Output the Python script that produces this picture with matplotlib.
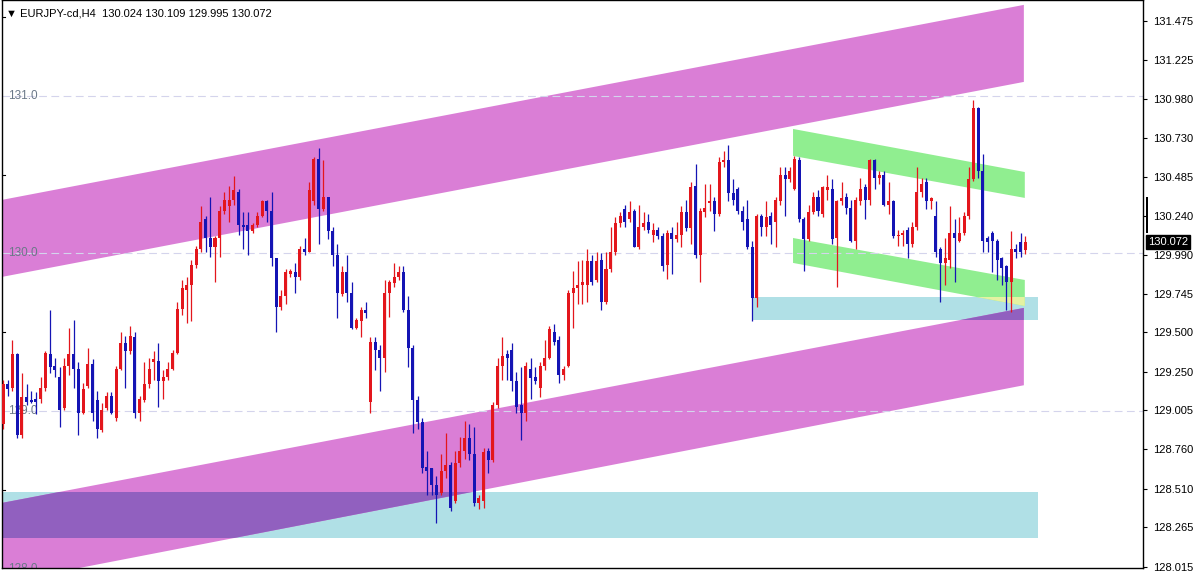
import matplotlib
matplotlib.use("Agg")
import matplotlib.pyplot as plt
import matplotlib.transforms as mtransforms
from matplotlib.patches import Polygon, Rectangle
import numpy as np

# EURJPY H4 candles (oldest first)
opens = [
    128.92, 129.17, 129.15, 129.36, 128.85, 129.09, 129.07, 129.08, 129.08, 129.15,
    129.36, 129.29, 129.22, 129.02, 129.29, 129.36, 129.27, 128.99, 129.16, 129.30,
    129.07, 128.88, 129.02, 129.10, 128.96, 129.27, 129.43, 129.38, 129.47, 128.99,
    129.07, 129.17, 129.31, 129.32, 129.19, 129.22, 129.27, 129.37, 129.65, 129.77,
    129.80, 129.93, 130.03, 130.22, 130.10, 130.04, 130.10, 130.27, 130.30, 130.34,
    130.39, 130.18, 130.18, 130.14, 130.18, 130.24, 130.33, 130.27, 129.97, 129.66,
    129.73, 129.87, 129.88, 129.85, 130.03, 130.01, 130.33, 130.60, 130.28, 130.36,
    130.14, 129.99, 129.74, 129.88, 129.75, 129.53, 129.57, 129.64, 129.06, 129.44,
    129.39, 129.34, 129.75, 129.81, 129.85, 129.88, 129.64, 129.40, 129.07, 128.93,
    128.65, 128.64, 128.53, 128.48, 128.62, 128.66, 128.43, 128.67, 128.75, 128.83,
    128.73, 128.42, 128.43, 128.75, 128.69, 129.04, 129.29, 129.36, 129.39, 129.19,
    129.04, 128.99, 129.27, 129.22, 129.15, 129.29, 129.34, 129.50, 129.45, 129.23,
    129.29, 129.75, 129.78, 129.80, 129.80, 129.95, 129.83, 129.96, 129.69, 129.90,
    130.01, 130.19, 130.28, 130.22, 130.27, 130.04, 130.17, 130.20, 130.12, 130.15,
    130.11, 129.93, 130.13, 130.09, 130.12, 130.26, 130.16, 130.43, 129.99, 130.26,
    130.32, 130.33, 130.25, 130.58, 130.59, 130.38, 130.41, 130.27, 130.22, 130.04,
    129.72, 130.24, 130.17, 130.24, 130.20, 130.33, 130.50, 130.47, 130.41, 130.59,
    130.22, 130.09, 130.26, 130.36, 130.25, 130.40, 130.41, 130.10, 130.33, 130.36,
    130.29, 130.08, 130.33, 130.42, 130.34, 130.59, 130.48, 130.50, 130.31, 130.33,
    130.11, 130.12, 130.15, 130.06, 130.17, 130.39, 130.45, 130.33, 130.24, 130.03,
    129.94, 129.96, 130.13, 130.08, 130.13, 130.24, 130.47, 130.92, 130.52, 130.10,
    130.13, 130.08, 129.97, 129.92, 129.82, 130.03, 130.07, 130.024,
]
highs = [
    129.20, 129.20, 129.45, 129.37, 129.24, 129.17, 129.13, 129.12, 129.22, 129.38,
    129.64, 129.34, 129.28, 129.34, 129.53, 129.58, 129.31, 129.18, 129.40, 129.33,
    129.13, 129.05, 129.12, 129.12, 129.29, 129.50, 129.48, 129.54, 129.50, 129.10,
    129.31, 129.34, 129.38, 129.43, 129.26, 129.31, 129.39, 129.69, 129.83, 129.85,
    129.96, 130.05, 130.30, 130.24, 130.36, 130.11, 130.30, 130.39, 130.43, 130.49,
    130.41, 130.26, 130.26, 130.19, 130.26, 130.34, 130.34, 130.39, 129.97, 129.77,
    129.90, 129.90, 129.94, 130.05, 130.10, 130.45, 130.61, 130.67, 130.59, 130.36,
    130.17, 130.06, 129.92, 129.99, 129.82, 129.59, 129.66, 129.69, 129.47, 129.47,
    129.42, 129.83, 129.83, 129.94, 129.92, 129.92, 129.73, 129.42, 129.10, 128.96,
    128.75, 128.64, 128.59, 128.73, 128.86, 128.68, 128.75, 128.84, 128.94, 128.92,
    128.90, 128.47, 128.77, 128.77, 129.06, 129.34, 129.47, 129.39, 129.43, 129.25,
    129.28, 129.31, 129.34, 129.28, 129.31, 129.45, 129.54, 129.55, 129.48, 129.29,
    129.77, 129.89, 129.95, 129.96, 130.03, 129.99, 130.01, 130.00, 130.01, 130.17,
    130.23, 130.26, 130.31, 130.33, 130.28, 130.31, 130.26, 130.25, 130.19, 130.17,
    130.13, 130.15, 130.17, 130.20, 130.30, 130.34, 130.45, 130.57, 130.29, 130.44,
    130.44, 130.36, 130.61, 130.65, 130.69, 130.47, 130.42, 130.30, 130.34, 130.08,
    130.25, 130.25, 130.33, 130.26, 130.36, 130.55, 130.55, 130.55, 130.62, 130.61,
    130.23, 130.31, 130.39, 130.40, 130.43, 130.50, 130.47, 130.34, 130.45, 130.38,
    130.34, 130.36, 130.48, 130.44, 130.60, 130.60, 130.52, 130.52, 130.45, 130.34,
    130.15, 130.15, 130.17, 130.20, 130.55, 130.48, 130.48, 130.36, 130.33, 130.04,
    130.10, 130.30, 130.22, 130.23, 130.26, 130.55, 130.97, 130.93, 130.63, 130.11,
    130.14, 130.09, 129.98, 129.93, 130.14, 130.06, 130.13, 130.109,
]
lows = [
    128.89, 129.10, 129.13, 128.83, 128.83, 129.04, 129.05, 128.98, 129.05, 129.13,
    129.24, 129.22, 128.90, 129.01, 129.23, 129.15, 128.85, 128.98, 129.15, 128.94,
    128.83, 128.87, 129.01, 128.98, 128.94, 129.26, 129.15, 129.36, 128.96, 128.94,
    129.06, 129.15, 129.20, 129.03, 129.08, 129.20, 129.26, 129.36, 129.61, 129.56,
    129.57, 129.91, 130.01, 130.01, 129.98, 129.82, 129.98, 130.25, 130.20, 130.31,
    130.12, 130.03, 129.99, 130.13, 130.17, 130.23, 130.20, 129.92, 129.50, 129.64,
    129.68, 129.85, 129.75, 129.83, 129.99, 130.01, 130.31, 130.06, 130.27, 130.09,
    129.92, 129.59, 129.73, 129.69, 129.52, 129.52, 129.47, 129.59, 128.99, 129.26,
    129.13, 129.25, 129.60, 129.79, 129.83, 129.63, 129.28, 128.86, 128.89, 128.61,
    128.47, 128.47, 128.29, 128.47, 128.58, 128.37, 128.42, 128.65, 128.70, 128.69,
    128.40, 128.38, 128.39, 128.61, 128.68, 129.02, 129.20, 129.20, 129.13, 128.99,
    128.82, 128.94, 129.08, 129.17, 129.09, 129.26, 129.33, 129.42, 129.18, 129.20,
    129.28, 129.53, 129.68, 129.68, 129.69, 129.80, 129.82, 129.64, 129.68, 129.88,
    129.99, 130.17, 130.17, 130.20, 130.04, 130.03, 130.15, 130.13, 130.07, 130.09,
    129.89, 129.84, 129.87, 130.07, 130.04, 130.14, 130.06, 129.97, 129.82, 130.23,
    130.27, 130.14, 130.24, 130.55, 130.33, 130.31, 130.25, 130.15, 130.03, 129.57,
    129.66, 130.11, 130.11, 130.06, 130.04, 130.31, 130.24, 130.45, 130.40, 130.20,
    129.89, 130.08, 130.25, 130.24, 130.23, 130.34, 130.06, 129.79, 130.31, 130.25,
    130.07, 130.03, 130.31, 130.22, 130.31, 130.41, 130.44, 130.30, 130.25, 130.10,
    130.05, 130.05, 129.97, 130.04, 130.15, 130.36, 130.28, 130.28, 129.98, 129.69,
    129.80, 129.91, 129.82, 130.07, 130.12, 130.22, 130.46, 130.48, 130.01, 130.01,
    129.88, 129.83, 129.80, 129.64, 129.63, 129.97, 129.98, 129.995,
]
closes = [
    129.17, 129.14, 129.36, 128.85, 129.09, 129.06, 129.06, 129.06, 129.15, 129.37,
    129.28, 129.26, 129.01, 129.29, 129.36, 129.27, 128.99, 129.14, 129.30, 128.99,
    128.89, 129.01, 129.10, 128.99, 129.27, 129.43, 129.38, 129.48, 128.99, 129.08,
    129.17, 129.27, 129.33, 129.19, 129.22, 129.27, 129.37, 129.65, 129.78, 129.80,
    129.93, 130.03, 130.20, 130.10, 130.04, 130.10, 130.27, 130.34, 130.34, 130.40,
    130.18, 130.17, 130.14, 130.18, 130.24, 130.33, 130.27, 129.97, 129.66, 129.73,
    129.88, 129.89, 129.85, 130.03, 130.01, 130.40, 130.60, 130.28, 130.36, 130.14,
    129.99, 129.75, 129.88, 129.75, 129.53, 129.58, 129.64, 129.62, 129.44, 129.39,
    129.34, 129.75, 129.82, 129.85, 129.88, 129.64, 129.40, 129.07, 128.93, 128.64,
    128.62, 128.53, 128.47, 128.62, 128.66, 128.39, 128.67, 128.75, 128.83, 128.73,
    128.42, 128.45, 128.74, 128.69, 129.04, 129.29, 129.35, 129.34, 129.19, 129.03,
    128.99, 129.29, 129.21, 129.19, 129.29, 129.34, 129.52, 129.44, 129.23, 129.27,
    129.75, 129.78, 129.80, 129.82, 129.95, 129.82, 129.95, 129.69, 129.90, 130.01,
    130.19, 130.24, 130.20, 130.26, 130.04, 130.17, 130.19, 130.15, 130.15, 130.11,
    129.92, 130.13, 130.09, 130.12, 130.26, 130.16, 130.42, 129.99, 130.27, 130.29,
    130.33, 130.25, 130.58, 130.59, 130.38, 130.34, 130.27, 130.20, 130.04, 129.72,
    130.24, 130.17, 130.23, 130.18, 130.34, 130.50, 130.47, 130.52, 130.60, 130.22,
    130.09, 130.26, 130.36, 130.27, 130.42, 130.42, 130.09, 130.33, 130.35, 130.29,
    130.08, 130.34, 130.41, 130.34, 130.59, 130.48, 130.50, 130.31, 130.33, 130.11,
    130.12, 130.13, 130.06, 130.17, 130.39, 130.44, 130.33, 130.35, 130.01, 129.94,
    129.97, 130.13, 130.10, 130.13, 130.24, 130.47, 130.92, 130.52, 130.08, 130.07,
    130.08, 129.96, 129.91, 129.82, 130.03, 130.01, 130.01, 130.072,
]

# chart objects: (start bar, end bar, top/bottom price at start, top/bottom at end)
band_upper = dict(t=[-0.3, 216.7], top=[130.339, 131.575], bot=[129.851, 131.087])
band_lower = dict(t=[-0.3, 216.7], top=[128.419, 129.655], bot=[127.912, 129.165])
green_upper = dict(t=[167.7, 216.9], top=[130.789, 130.516], bot=[130.618, 130.352])
green_lower = dict(t=[167.7, 216.9], top=[130.098, 129.832], bot=[129.940, 129.667])
zone_big = dict(t=[-0.3, 219.7], top=128.486, bot=128.197)
zone_small = dict(t=[159.0, 219.7], top=129.724, bot=129.578)

round_levels = [131.0, 130.0, 129.0, 128.0]
round_labels = ["131.0", "130.0", "129.0", "128.0"]
axis_ticks = [131.475, 131.225, 130.980, 130.730, 130.485, 130.240, 129.990,
              129.745, 129.500, 129.250, 129.005, 128.760, 128.510, 128.265, 128.015]
left_ticks = [131.5, 130.5, 129.5, 128.5]
last_price = 130.072

MAGENTA = "#da7ed6"
GREEN = "#90ee90"
CYAN = "#b0e0e6"
PURPLE = "#9160bf"
YELLOWISH = "#e4f2a2"
RED = "#e3161c"
BLUE = "#1414b4"

plt.rcParams["font.family"] = ["Liberation Sans", "DejaVu Sans"]

fig = plt.figure(figsize=(12, 5.71), dpi=100)
ax = fig.add_axes([1.5 / 1200, 3 / 571, 1141.5 / 1200, 568 / 571])
ax.set_xlim(-0.32, 241.99)
ax.set_ylim(128.007, 131.606)


def band_poly(b, color, z):
    pts = [(b["t"][0], b["top"][0]), (b["t"][1], b["top"][1]),
           (b["t"][1], b["bot"][1]), (b["t"][0], b["bot"][0])]
    return Polygon(pts, closed=True, facecolor=color, edgecolor="none", zorder=z)


def zone_rect(z, color, zo):
    return Rectangle((z["t"][0], z["bot"]), z["t"][1] - z["t"][0], z["top"] - z["bot"],
                     facecolor=color, edgecolor="none", zorder=zo)


# background objects
for zone in (zone_big, zone_small):
    ax.add_patch(zone_rect(zone, CYAN, 1))
for band in (band_upper, band_lower):
    ax.add_patch(band_poly(band, MAGENTA, 1.2))
for band in (green_upper, green_lower):
    ax.add_patch(band_poly(band, GREEN, 1.2))

# overlaps get their mixed colour
for zone in (zone_big, zone_small):
    clip = zone_rect(zone, "none", 1)
    clip.set_transform(ax.transData)
    for band, col in ((band_lower, PURPLE), (green_lower, YELLOWISH)):
        p = band_poly(band, col, 1.5)
        ax.add_patch(p)
        p.set_clip_path(clip)

# round number levels
blend = mtransforms.blended_transform_factory(ax.transAxes, ax.transData)
for lvl, lab in zip(round_levels, round_labels):
    ax.axhline(lvl, color="#d4d4ec", lw=0.8, dashes=(7, 4), zorder=2)
    ax.text(0.0057, lvl, lab, transform=blend, ha="left", va="center",
            fontsize=8.5, color="#6a7888", zorder=2.5, clip_on=True)

# candles
o = np.array(opens)
h = np.array(highs)
l = np.array(lows)
c = np.array(closes)
x = np.arange(len(o))
cols = [RED if cc >= oo else BLUE for oo, cc in zip(o, c)]
ax.vlines(x, l, h, colors=cols, lw=0.9, zorder=3)
body = np.maximum(np.abs(c - o), 0.006)
ax.bar(x, body, bottom=np.minimum(o, c), width=0.64, color=cols, zorder=4, linewidth=0)

# axes look
ax.yaxis.tick_right()
ax.set_yticks(axis_ticks)
ax.set_yticklabels([f"{v:.3f}" for v in axis_ticks])
ax.tick_params(axis="y", length=3, width=0.8, pad=4, labelsize=8, colors="black")
ax.set_xticks([])
for s in ax.spines.values():
    s.set_color("black")
    s.set_linewidth(1)

for p in left_ticks:
    ax.plot([0, 0.0035], [p, p], transform=blend, color="black", lw=0.8, zorder=5)

# last price tag and marker
ax.text(1.0045, last_price, f"{last_price:.3f}", transform=blend, ha="left", va="center",
        fontsize=8, color="white", zorder=6, clip_on=False,
        bbox=dict(boxstyle="square,pad=0.15", facecolor="black", edgecolor="black"))
ax.add_patch(Rectangle((1.0027, 130.130), 0.0018, 0.228, transform=blend,
                       facecolor="black", edgecolor="none", clip_on=False, zorder=6))

fig.text(6 / 1200, 1 - 13 / 571, "\u25bc EURJPY-cd,H4  130.024 130.109 129.995 130.072",
         fontsize=8, va="center", ha="left", color="black",
         family=["Liberation Sans", "DejaVu Sans"])

fig.savefig("out.png", dpi=100)
